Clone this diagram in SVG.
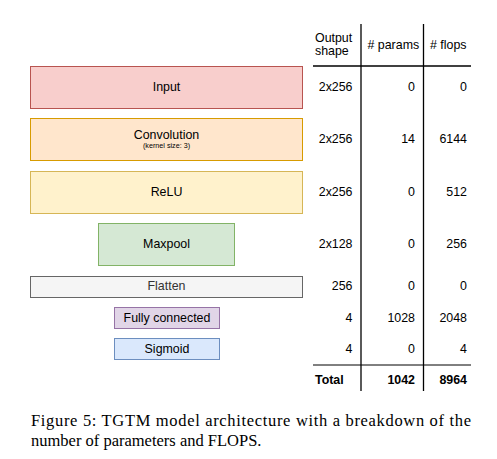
<svg xmlns="http://www.w3.org/2000/svg" width="497" height="459" viewBox="0 0 497 459">
<style>
.lbl{font-family:"Liberation Sans",Arial,sans-serif;font-size:12.4px;fill:#000;text-anchor:middle}
.t{font-family:"Liberation Sans",Arial,sans-serif;font-size:12.4px;fill:#000}
.r{text-anchor:end}
.b{font-weight:bold}
.ln{stroke:#000;stroke-width:1.3;fill:none}
.cap{font-family:"Liberation Serif","Times New Roman",serif;font-size:16.5px;fill:#000}
</style>
<rect width="497" height="459" fill="#fff"/>
<g id="node-input">
<rect x="30.5" y="66.5" width="272" height="42" fill="#f8cecc" stroke="#b85450"/>
<text class="lbl" x="166.5" y="90.5">Input</text>
</g>
<g id="node-conv">
<rect x="30.5" y="118.5" width="272" height="42" fill="#ffe6cc" stroke="#d79b00"/>
<text class="lbl" x="166.5" y="138.5">Convolution</text>
<text class="lbl" x="166.5" y="147.5" style="font-size:7.2px">(kernel size: 3)</text>
</g>
<g id="node-relu">
<rect x="30.5" y="171.5" width="272" height="42" fill="#fff2cc" stroke="#d6b656"/>
<text class="lbl" x="166.5" y="195.5">ReLU</text>
</g>
<g id="node-maxpool">
<rect x="98.5" y="223.5" width="136" height="42" fill="#d5e8d4" stroke="#82b366"/>
<text class="lbl" x="166.5" y="247.5">Maxpool</text>
</g>
<g id="node-flatten">
<rect x="30.5" y="276.5" width="272" height="21" fill="#f5f5f5" stroke="#666666"/>
<text class="lbl" x="166.5" y="290" style="fill:#333333">Flatten</text>
</g>
<g id="node-fc">
<rect x="114.5" y="307.5" width="105" height="21" fill="#e1d5e7" stroke="#9673a6"/>
<text class="lbl" x="167" y="321.5">Fully connected</text>
</g>
<g id="node-sigmoid">
<rect x="114.5" y="338.5" width="105" height="21" fill="#dae8fc" stroke="#6c8ebf"/>
<text class="lbl" x="167" y="352.5">Sigmoid</text>
</g>
<g id="connectors">
<line class="ln" x1="361" y1="24" x2="361" y2="391"/>
<line class="ln" x1="423.5" y1="24" x2="423.5" y2="391"/>
<line class="ln" x1="313" y1="66" x2="471" y2="66"/>
<line class="ln" x1="313" y1="365" x2="471" y2="365" style="stroke-width:1"/>
</g>
<g id="table">
<text class="t" x="315" y="41.5">Output</text>
<text class="t" x="315" y="55">shape</text>
<text class="t" x="367.5" y="48.5"># params</text>
<text class="t" x="430" y="48.5"># flops</text>
<g class="t">
<text class="t r" x="352.5" y="90.5">2x256</text>
<text class="t r" x="415" y="90.5">0</text>
<text class="t r" x="467" y="90.5">0</text>
<text class="t r" x="352.5" y="142.5">2x256</text>
<text class="t r" x="415" y="142.5">14</text>
<text class="t r" x="467" y="142.5">6144</text>
<text class="t r" x="352.5" y="195.5">2x256</text>
<text class="t r" x="415" y="195.5">0</text>
<text class="t r" x="467" y="195.5">512</text>
<text class="t r" x="352.5" y="247.5">2x128</text>
<text class="t r" x="415" y="247.5">0</text>
<text class="t r" x="467" y="247.5">256</text>
<text class="t r" x="352.5" y="289.5">256</text>
<text class="t r" x="415" y="289.5">0</text>
<text class="t r" x="467" y="289.5">0</text>
<text class="t r" x="352.5" y="321.5">4</text>
<text class="t r" x="415" y="321.5">1028</text>
<text class="t r" x="467" y="321.5">2048</text>
<text class="t r" x="352.5" y="352.5">4</text>
<text class="t r" x="415" y="352.5">0</text>
<text class="t r" x="467" y="352.5">4</text>
<text class="t b" x="315" y="384">Total</text>
<text class="t r b" x="415" y="384">1042</text>
<text class="t r b" x="467" y="384">8964</text>
</g>
</g>
<text class="cap" x="31" y="425.5" textLength="440" lengthAdjust="spacing">Figure 5:  TGTM model architecture with a breakdown of the</text>
<text class="cap" x="31" y="445.5">number of parameters and FLOPS.</text>
</svg>
